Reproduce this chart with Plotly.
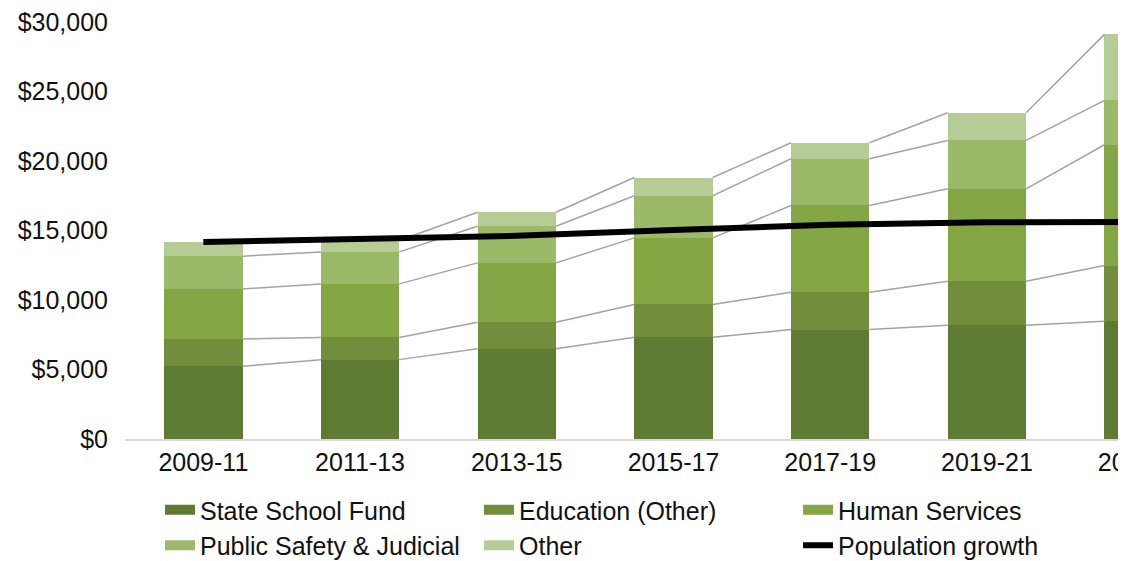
import plotly.graph_objects as go

# ---- data (USD millions) ----
bienniums = ["2009-11", "2011-13", "2013-15", "2015-17", "2017-19", "2019-21", "2021-23"]
state_school_fund = [5230, 5710, 6500, 7320, 7870, 8180, 8470]
education_other = [1970, 1600, 1900, 2360, 2680, 3170, 4010]
human_services = [3600, 3850, 4270, 4790, 6250, 6650, 8690]
public_safety = [2350, 2300, 2640, 3030, 3360, 3480, 3190]
other = [1030, 820, 1000, 1310, 1150, 1990, 4750]
population_growth = [14170, 14390, 14620, 15030, 15420, 15590, 15620]

series_names = ["State School Fund", "Education (Other)", "Human Services",
                "Public Safety & Judicial", "Other"]
series_values = [state_school_fund, education_other, human_services, public_safety, other]
series_colors = ["#5f7a33", "#728e3c", "#84a644", "#9cb96a", "#b6cc96"]

# ---- layout constants ----
W, H = 1240, 561
ML, MR, MT, MB = 125, 18, 22, 122
BAR_W = 0.5
FONT = "Liberation Sans, Arial, Helvetica, sans-serif"
TXT = "#111111"

x_idx = list(range(len(bienniums)))
fig = go.Figure()

# stacked bars
for name, vals, col in zip(series_names, series_values, series_colors):
    fig.add_trace(go.Bar(x=x_idx, y=vals, name=name, marker=dict(color=col, line=dict(width=0)),
                         width=BAR_W, showlegend=False))

# series (connector) lines between bar segment tops
cum = [0] * len(bienniums)
for vals in series_values:
    cum = [c + v for c, v in zip(cum, vals)]
    lx, ly = [], []
    for i in range(len(bienniums) - 1):
        lx += [i + BAR_W / 2, i + 1 - BAR_W / 2, None]
        ly += [cum[i], cum[i + 1], None]
    fig.add_trace(go.Scatter(x=lx, y=ly, mode="lines", line=dict(color="#a3a3a3", width=1.5),
                             showlegend=False, hoverinfo="skip"))

# legend entries for the bar series (wide swatches)
for name, col in zip(series_names, series_colors):
    fig.add_trace(go.Scatter(x=[None], y=[None], mode="lines", name=name,
                             line=dict(color=col, width=12)))

# population growth line
fig.add_trace(go.Scatter(x=x_idx, y=population_growth, mode="lines", name="Population growth",
                         line=dict(color="#000000", width=6)))

plot_w = W - ML - MR
plot_h = H - MT - MB
clip_px = 1118
fig.add_shape(type="rect", xref="paper", yref="paper",
              x0=(clip_px - ML) / plot_w, x1=1.2, y0=-0.5, y1=1.2,
              fillcolor="white", line=dict(width=0), layer="above")

fig.update_layout(
    width=W, height=H,
    margin=dict(l=ML, r=MR, t=MT, b=MB, pad=0, autoexpand=False),
    barmode="stack",
    plot_bgcolor="white", paper_bgcolor="white",
    font=dict(family=FONT, size=25, color=TXT),
    showlegend=True,
    legend=dict(orientation="h", traceorder="normal",
                x=(160 - ML) / plot_w, xanchor="left",
                yref="container", y=1 - 487 / H, yanchor="top",
                entrywidth=274, entrywidthmode="pixels",
                font=dict(family=FONT, size=25, color=TXT),
                bgcolor="rgba(0,0,0,0)", borderwidth=0),
    xaxis=dict(range=[-0.5, len(bienniums) - 0.5], tickmode="array", tickvals=x_idx,
               ticktext=bienniums, showgrid=False, zeroline=False,
               showline=True, linecolor="#d9d9d9", linewidth=1.5, ticks="",
               ticklabelstandoff=0, tickfont=dict(size=25), automargin=False),
    yaxis=dict(range=[0, 30000], dtick=5000, tickprefix="$", tickformat=",",
               showgrid=False, zeroline=False, showline=False, ticks="",
               ticklabelstandoff=16, tickfont=dict(size=25), automargin=False),
)

fig.write_html("out.html",
               post_script="document.documentElement.style.overflow='hidden';"
                           "document.body.style.overflow='hidden';"
                           "document.body.style.margin='0';")
